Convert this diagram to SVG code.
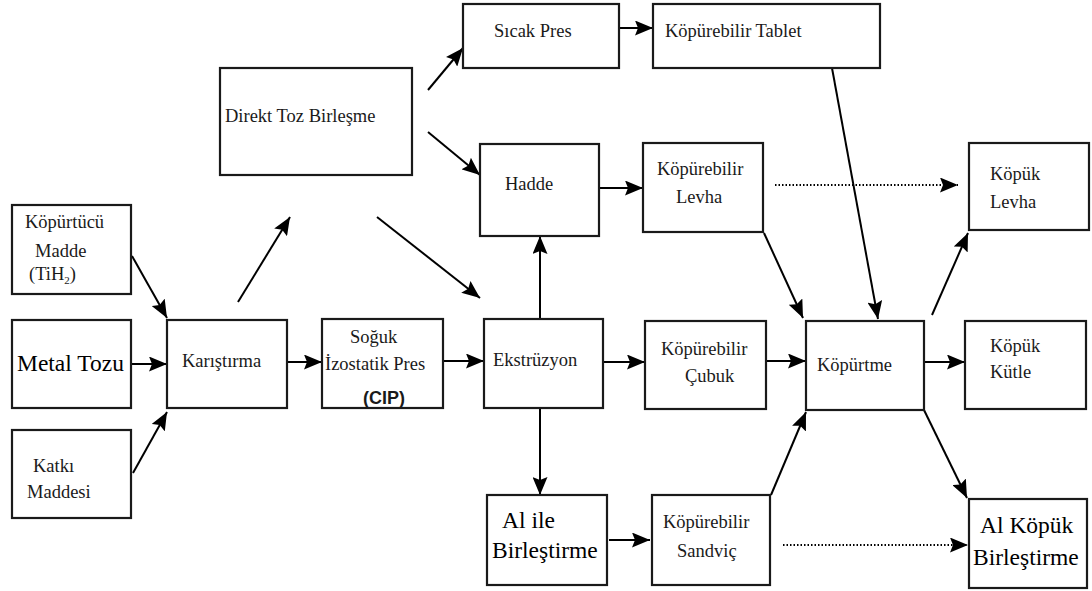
<svg xmlns="http://www.w3.org/2000/svg" width="1092" height="591" viewBox="0 0 1092 591">
<style>
.box{fill:#fff;stroke:#1a1a1a;stroke-width:2.2}
.t{font-family:"Liberation Serif","Times New Roman",serif;font-size:18.5px;fill:#1a1a1a}
.L{font-size:23.5px;fill:#000}
.b{font-family:"Liberation Sans",Arial,sans-serif;font-weight:bold;font-size:18px;fill:#1a1a1a}
.c{stroke:#000;stroke-width:2;fill:none;marker-end:url(#ah)}
.d{stroke:#000;stroke-width:1.8;fill:none;stroke-dasharray:1.5 2;marker-end:url(#ah)}
</style>
<defs>
<marker id="ah" markerUnits="userSpaceOnUse" markerWidth="19" markerHeight="15" refX="18" refY="7.5" orient="auto">
<path d="M0,0 L18,7.5 L0,15 L3,7.5 z" fill="#000"/>
</marker>
</defs>
<rect width="1092" height="591" fill="#fff"/>
<g id="connectors">
<line class="c" x1="132" y1="256" x2="167" y2="318"/>
<line class="c" x1="129" y1="364" x2="167" y2="364"/>
<line class="c" x1="133" y1="473" x2="167" y2="412"/>
<line class="c" x1="238" y1="302" x2="290" y2="217"/>
<line class="c" x1="428" y1="90" x2="463" y2="48"/>
<line class="c" x1="428" y1="132" x2="480" y2="175"/>
<line class="c" x1="377" y1="217" x2="480" y2="298"/>
<line class="c" x1="619" y1="28" x2="653" y2="28"/>
<line class="c" x1="287" y1="362" x2="322" y2="362"/>
<line class="c" x1="443" y1="361" x2="484" y2="361"/>
<line class="c" x1="540" y1="319" x2="540" y2="236"/>
<line class="c" x1="540" y1="408" x2="540" y2="495"/>
<line class="c" x1="603" y1="362" x2="645" y2="362"/>
<line class="c" x1="600" y1="188" x2="643" y2="188"/>
<line class="d" x1="775" y1="185" x2="958" y2="185"/>
<line class="c" x1="764" y1="233" x2="803" y2="318"/>
<line class="c" x1="832" y1="68" x2="878" y2="319"/>
<line class="c" x1="766" y1="361" x2="806" y2="361"/>
<line class="c" x1="924" y1="362" x2="965" y2="362"/>
<line class="c" x1="932" y1="315" x2="968" y2="233"/>
<line class="c" x1="771" y1="495" x2="806" y2="412"/>
<line class="c" x1="924" y1="410" x2="967" y2="498"/>
<line class="c" x1="609" y1="540" x2="650" y2="540"/>
<line class="d" x1="783" y1="545" x2="968" y2="545"/>
</g>
<g id="kopurtucu">
<rect class="box" x="12" y="205" width="119" height="89"/>
<text class="t" x="25" y="228">Köpürtücü</text>
<text class="t" x="35" y="257">Madde</text>
<text class="t" x="29" y="280">(TiH<tspan font-size="11" dy="4">2</tspan><tspan dy="-4">)</tspan></text>
</g>
<g id="metal">
<rect class="box" x="12" y="320" width="119" height="88"/>
<text class="t L" x="17" y="371">Metal Tozu</text>
</g>
<g id="katki">
<rect class="box" x="12" y="430" width="119" height="88"/>
<text class="t" x="33" y="472">Katkı</text>
<text class="t" x="27" y="498">Maddesi</text>
</g>
<g id="karistirma">
<rect class="box" x="167" y="320" width="120" height="88"/>
<text class="t" x="182" y="367">Karıştırma</text>
</g>
<g id="direkt">
<rect class="box" x="220" y="68" width="192" height="107"/>
<text class="t" x="225" y="122">Direkt Toz Birleşme</text>
</g>
<g id="sicak">
<rect class="box" x="463" y="4" width="156" height="64"/>
<text class="t" x="494" y="37">Sıcak Pres</text>
</g>
<g id="tablet">
<rect class="box" x="653" y="4" width="227" height="64"/>
<text class="t" x="665" y="37">Köpürebilir Tablet</text>
</g>
<g id="hadde">
<rect class="box" x="480" y="144" width="119" height="92"/>
<text class="t" x="505" y="190">Hadde</text>
</g>
<g id="levha">
<rect class="box" x="643" y="143" width="120" height="89"/>
<text class="t" x="657" y="175">Köpürebilir</text>
<text class="t" x="676" y="203">Levha</text>
</g>
<g id="kopuklevha">
<rect class="box" x="969" y="143" width="120" height="87"/>
<text class="t" x="990" y="180">Köpük</text>
<text class="t" x="990" y="208">Levha</text>
</g>
<g id="cip">
<rect class="box" x="322" y="319" width="121" height="89"/>
<text class="t" x="350" y="343">Soğuk</text>
<text class="t" x="325" y="370">İzostatik Pres</text>
<text class="b" x="363" y="404">(CIP)</text>
</g>
<g id="ekstruzyon">
<rect class="box" x="484" y="319" width="119" height="89"/>
<text class="t" x="493" y="366">Ekstrüzyon</text>
</g>
<g id="cubuk">
<rect class="box" x="645" y="321" width="121" height="88"/>
<text class="t" x="661" y="355">Köpürebilir</text>
<text class="t" x="685" y="382">Çubuk</text>
</g>
<g id="kopurtme">
<rect class="box" x="806" y="321" width="118" height="89"/>
<text class="t" x="817" y="371">Köpürtme</text>
</g>
<g id="kutle">
<rect class="box" x="965" y="321" width="121" height="88"/>
<text class="t" x="990" y="352">Köpük</text>
<text class="t" x="990" y="378">Kütle</text>
</g>
<g id="alile">
<rect class="box" x="487" y="495" width="120" height="90"/>
<text class="t L" x="502" y="528">Al ile</text>
<text class="t L" x="492" y="558">Birleştirme</text>
</g>
<g id="sandvic">
<rect class="box" x="652" y="495" width="118" height="90"/>
<text class="t" x="663" y="528">Köpürebilir</text>
<text class="t" x="677" y="557">Sandviç</text>
</g>
<g id="alkopuk">
<rect class="box" x="969" y="499" width="118" height="89"/>
<text class="t L" x="980" y="533">Al Köpük</text>
<text class="t L" x="973" y="565">Birleştirme</text>
</g>
</svg>
